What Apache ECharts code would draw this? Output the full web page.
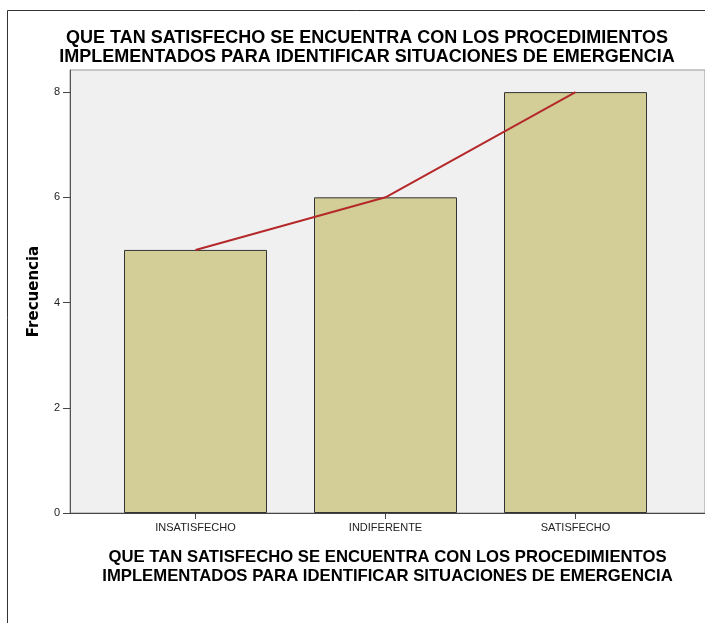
<!DOCTYPE html>
<html>
<head>
<meta charset="utf-8">
<script src="https://cdn.jsdelivr.net/npm/echarts@6/dist/echarts.min.js"></script>
<style>
html, body { margin: 0; padding: 0; background: #fff; }
#chart { width: 705px; height: 623px; }
</style>
</head>
<body>
<div id="chart"></div>
<script>
// datos
var categorias = ['INSATISFECHO', 'INDIFERENTE', 'SATISFECHO'];
var frecuencias = [5, 6, 8];
var ticksY = [0, 2, 4, 6, 8];
var titulo = 'QUE TAN SATISFECHO SE ENCUENTRA CON LOS PROCEDIMIENTOS\nIMPLEMENTADOS PARA IDENTIFICAR SITUACIONES DE EMERGENCIA';

var puntos = frecuencias.map(function (v, i) { return [i, v]; });

var myChart = echarts.init(document.getElementById('chart'));
myChart.setOption({
    animation: false,
    title: {
        text: titulo,
        left: 362,
        top: 24,
        textAlign: 'center',
        textStyle: {
            fontFamily: 'Liberation Sans',
            fontSize: 18,
            fontWeight: 'bold',
            color: '#000',
            lineHeight: 19
        }
    },
    graphic: [{
        type: 'rect',
        shape: { x: 7.5, y: 10.5, width: 760, height: 700 },
        style: { fill: 'none', stroke: '#333', lineWidth: 1 },
        silent: true
    }],
    grid: {
        left: 70,
        right: -5,
        top: 70,
        bottom: 110,
        show: true,
        backgroundColor: '#f0f0f0',
        borderColor: '#999',
        borderWidth: 1
    },
    xAxis: {
        type: 'value',
        min: -0.6606,
        max: 2.6815,
        name: titulo,
        nameLocation: 'middle',
        nameGap: 35,
        nameTextStyle: {
            fontFamily: 'Liberation Sans',
            fontSize: 16.7,
            fontWeight: 'bold',
            color: '#000',
            lineHeight: 19
        },
        splitLine: { show: false },
        axisLine: { show: true, lineStyle: { color: '#444', width: 1 } },
        axisTick: { show: true, customValues: [0, 1, 2], length: 6, lineStyle: { color: '#444' } },
        axisLabel: {
            customValues: [0, 1, 2],
            formatter: function (v) { return categorias[v]; },
            fontFamily: 'Liberation Sans',
            fontSize: 11,
            color: '#222',
            margin: 9
        }
    },
    yAxis: {
        type: 'value',
        min: 0,
        max: 8.42,
        name: 'Frecuencia',
        nameLocation: 'middle',
        nameGap: 28,
        nameTextStyle: {
            fontFamily: 'DejaVu Sans',
            fontSize: 15,
            fontWeight: 'bold',
            color: '#000'
        },
        splitLine: { show: false },
        axisLine: { show: true, onZero: false, lineStyle: { color: '#555', width: 1 } },
        axisTick: { show: true, customValues: ticksY, length: 7, lineStyle: { color: '#444' } },
        axisLabel: {
            customValues: ticksY,
            fontFamily: 'Liberation Sans',
            fontSize: 11,
            color: '#222',
            margin: 10
        }
    },
    series: [
        {
            type: 'bar',
            data: puntos,
            barWidth: 143,
            itemStyle: {
                color: '#d3ce97',
                borderColor: '#333',
                borderWidth: 1
            }
        },
        {
            type: 'line',
            data: puntos,
            symbol: 'none',
            lineStyle: { color: '#b5282a', width: 2 },
            z: 5
        }
    ]
});
</script>
</body>
</html>
